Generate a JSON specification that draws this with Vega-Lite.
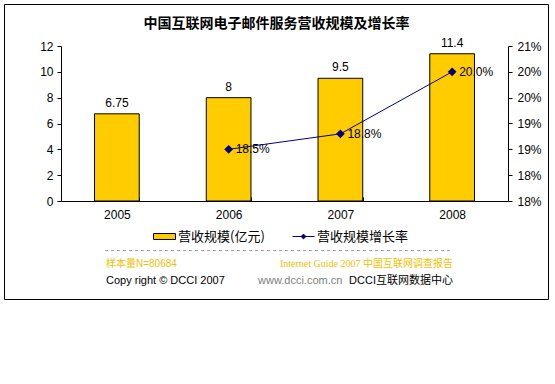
{
  "$schema": "https://vega.github.io/schema/vega-lite/v6.json",
  "autosize": {"type": "none"},
  "width": 447,
  "height": 155,
  "padding": {"left": 61, "top": 46, "right": 47, "bottom": 183},
  "background": "white",
  "config": {
    "view": {"stroke": null},
    "font": "Liberation Sans",
    "axis": {"grid": false, "domainColor": "black", "tickColor": "black", "labelColor": "black", "labelFont": "Liberation Sans", "labelFontSize": 12, "title": null, "labelOverlap": false},
    "legend": {"labelFont": "Noto Sans CJK SC", "labelFontSize": 13, "labelColor": "black"}
  },
  "title": {"text": "中国互联网电子邮件服务营收规模及增长率", "font": "Noto Sans CJK SC", "fontSize": 14, "fontWeight": "bold", "color": "black", "anchor": "middle", "frame": "bounds", "offset": -27},
  "datasets": {
    "revenue": [
      {"year": "2005", "revenue": 6.75},
      {"year": "2006", "revenue": 8},
      {"year": "2007", "revenue": 9.5},
      {"year": "2008", "revenue": 11.4}
    ],
    "growth": [
      {"year": "2006", "rate": 0.185},
      {"year": "2007", "rate": 0.188},
      {"year": "2008", "rate": 0.2}
    ]
  },
  "layer": [
    {
      "data": {"name": "revenue"},
      "layer": [
        {
          "mark": {"type": "bar", "stroke": "black", "strokeWidth": 1},
          "encoding": {
            "x": {"field": "year", "type": "nominal", "scale": {"domain": ["2005", "2006", "2007", "2008"], "paddingInner": 0.6, "paddingOuter": 0.3},
                  "axis": {"labelAngle": 0, "tickBand": "extent", "tickSize": -4, "labelPadding": 17, "labelBaseline": "middle", "labelOverlap": false}},
            "y": {"field": "revenue", "type": "quantitative", "scale": {"domain": [0, 12], "nice": false},
                  "axis": {"orient": "left", "values": [0, 2, 4, 6, 8, 10, 12], "tickCount": 12, "tickSize": 4, "labelPadding": 4, "labelOverlap": false, "labelFlush": false, "labelBound": false}},
            "fill": {"datum": "营收规模(亿元)", "scale": {"range": ["#FFCC00"]},
                     "legend": {"orient": "none", "legendX": 92, "legendY": 179, "title": null, "padding": 0,
                                "symbolType": "M-1,-0.27H1V0.27H-1Z", "symbolSize": 484, "symbolStrokeColor": "black", "symbolStrokeWidth": 1, "labelOffset": 2}}
          }
        },
        {
          "mark": {"type": "text", "baseline": "middle", "dy": -11, "fontSize": 12, "font": "Liberation Sans", "color": "black"},
          "encoding": {
            "x": {"field": "year", "type": "nominal"},
            "y": {"field": "revenue", "type": "quantitative"},
            "text": {"field": "revenue", "type": "quantitative"}
          }
        }
      ]
    },
    {
      "data": {"name": "growth"},
      "layer": [
        {
          "mark": {"type": "line", "strokeWidth": 1, "point": {"filled": true, "shape": "diamond", "size": 36, "color": "#000080"}},
          "encoding": {
            "x": {"field": "year", "type": "nominal"},
            "y": {"field": "rate", "type": "quantitative", "scale": {"domain": [0.175, 0.205], "nice": false, "zero": false},
                  "axis": {"orient": "right", "values": [0.175, 0.18, 0.185, 0.19, 0.195, 0.2, 0.205], "tickCount": 12, "tickSize": 4, "labelPadding": 5, "labelOverlap": false, "labelFlush": false, "labelBound": false,
                           "labelExpr": "round(round(datum.value*1000)/10) + '%'"}},
            "stroke": {"datum": "营收规模增长率", "scale": {"range": ["#000080"]},
                       "legend": {"orient": "none", "legendX": 231, "legendY": 179, "title": null, "padding": 0,
                                  "symbolType": "M-1,0H1M-0.22,0L0,-0.22L0.22,0L0,0.22Z", "symbolSize": 484, "symbolStrokeWidth": 1, "symbolFillColor": "#000080", "labelOffset": 2}}
          }
        },
        {
          "mark": {"type": "text", "align": "left", "baseline": "middle", "dx": 7, "fontSize": 12, "font": "Liberation Sans", "color": "black"},
          "encoding": {
            "x": {"field": "year", "type": "nominal"},
            "y": {"field": "rate", "type": "quantitative"},
            "text": {"field": "rate", "type": "quantitative", "format": ".1%"}
          }
        }
      ]
    },
    {
      "data": {"values": [{}]},
      "mark": {"type": "rect", "filled": false, "stroke": "black", "strokeWidth": 1},
      "encoding": {"x": {"value": -56.5}, "x2": {"value": 487.5}, "y": {"value": -41.5}, "y2": {"value": 253.5}}
    },
    {
      "data": {"values": [{}]},
      "mark": {"type": "rule", "stroke": "#A0A0A0", "strokeDash": [3, 3], "strokeWidth": 1},
      "encoding": {"x": {"value": 44}, "x2": {"value": 392}, "y": {"value": 204.5}}
    },
    {
      "data": {"values": [{}]},
      "mark": {"type": "text", "text": "样本量N=80684", "align": "left", "baseline": "middle", "fontSize": 10, "font": "Liberation Sans, Noto Sans CJK SC", "color": "#F0C000"},
      "encoding": {"x": {"value": 45}, "y": {"value": 218}}
    },
    {
      "data": {"values": [{}]},
      "mark": {"type": "text", "text": "Internet Guide 2007 中国互联网调查报告", "align": "right", "baseline": "middle", "fontSize": 10, "font": "Liberation Serif, Noto Sans CJK SC", "color": "#F0C000"},
      "encoding": {"x": {"value": 392}, "y": {"value": 218}}
    },
    {
      "data": {"values": [{}]},
      "mark": {"type": "text", "text": "Copy right © DCCI 2007", "align": "left", "baseline": "middle", "fontSize": 11, "font": "Liberation Sans", "color": "black"},
      "encoding": {"x": {"value": 45}, "y": {"value": 235}}
    },
    {
      "data": {"values": [{}]},
      "mark": {"type": "text", "text": "www.dcci.com.cn", "align": "left", "baseline": "middle", "fontSize": 11, "font": "Liberation Sans", "color": "#808080"},
      "encoding": {"x": {"value": 197}, "y": {"value": 235}}
    },
    {
      "data": {"values": [{}]},
      "mark": {"type": "text", "text": "DCCI互联网数据中心", "align": "right", "baseline": "middle", "fontSize": 11, "font": "Liberation Sans, Noto Sans CJK SC", "color": "black"},
      "encoding": {"x": {"value": 392}, "y": {"value": 235}}
    }
  ],
  "resolve": {"scale": {"y": "independent"}}
}
